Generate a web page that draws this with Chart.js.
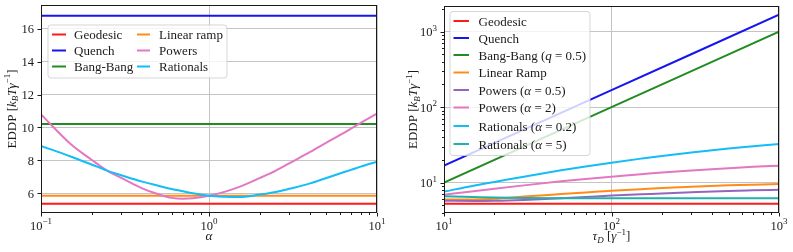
<!DOCTYPE html>
<html>
<head>
<meta charset="utf-8">
<script src="https://cdn.jsdelivr.net/npm/chart.js@4.4.0/dist/chart.umd.min.js"></script>
<style>
html, body { margin: 0; padding: 0; background: #fff; }
#wrap { position: relative; width: 793px; height: 252px; }
canvas { position: absolute; top: 0; }
#left { left: 0; }
#right { left: 400px; }
</style>
</head>
<body>
<div id="wrap">
  <canvas id="left" width="400" height="252"></canvas>
  <canvas id="right" width="393" height="252"></canvas>
</div>
<script>
// ---- left panel: EDDP vs alpha ----
const alphaVals = [0.1, 0.15, 0.2, 0.25, 0.3, 0.4, 0.5, 0.6, 0.7, 0.8, 1, 1.25, 1.5, 2, 2.5, 3, 4, 5, 6, 7, 8, 10];
const leftNames = ["Geodesic", "Quench", "Bang-Bang", "Linear ramp", "Powers", "Rationals"];
const leftGeodesic = 5.36;
const leftQuench = 16.8;
const leftBangBang = 10.22;
const leftLinear = 5.85;
const leftPowers = [10.8, 9.0, 8.04, 7.34, 6.94, 6.3, 5.94, 5.72, 5.67, 5.7, 5.85, 6.1, 6.37, 6.92, 7.38, 7.82, 8.51, 9.08, 9.53, 9.93, 10.28, 10.85];
const leftRationals = [8.88, 8.24, 7.75, 7.36, 7.1, 6.71, 6.46, 6.26, 6.12, 6.0, 5.85, 5.79, 5.77, 5.92, 6.08, 6.27, 6.6, 6.93, 7.2, 7.42, 7.62, 7.92];
const leftXTicks = [0.1, 1, 10];
const leftXExp = ["\u22121", "0", "1"];
const leftYTicks = [6, 8, 10, 12, 14, 16];

// ---- right panel: EDDP vs tau_D ----
const tauVals = [10, 15, 20, 30, 50, 70, 100, 150, 200, 300, 500, 700, 1000];
const rightNames = ["Geodesic", "Quench", "Bang-Bang (q = 0.5)", "Linear Ramp", "Powers (\u03b1 = 0.5)",
                    "Powers (\u03b1 = 2)", "Rationals (\u03b1 = 0.2)", "Rationals (\u03b1 = 5)"];
const rGeodesic = [5.25, 5.25, 5.25, 5.25, 5.25, 5.25, 5.25, 5.25, 5.25, 5.25, 5.25, 5.25, 5.25];
const rQuench = [16.8, null, null, null, null, null, 168, null, null, null, null, null, 1680];
const rBangBang = [10, null, null, null, null, null, 100, null, null, null, null, null, 1000];
const rLinear = [6.0, 6.0, 6.1, 6.55, 7.05, 7.4, 7.8, 8.2, 8.5, 8.85, 9.2, 9.4, 9.6];
const rPowers05 = [5.75, 5.72, 5.75, 5.9, 6.2, 6.45, 6.75, 7.0, 7.2, 7.45, 7.75, 7.9, 8.05];
const rPowers2 = [6.9, 7.7, 8.3, 9.2, 10.4, 11.2, 12.0, 12.9, 13.6, 14.5, 15.5, 16.2, 16.8];
const rRat02 = [7.6, 9.1, 10.2, 12.0, 14.6, 16.4, 18.4, 20.8, 22.6, 25.1, 28.3, 30.4, 32.5];
const rRat5 = [6.6, 6.45, 6.35, 6.25, 6.2, 6.2, 6.2, 6.2, 6.2, 6.2, 6.2, 6.2, 6.2];
const rightXTicks = [10, 100, 1000];
const rightXExp = ["1", "2", "3"];
const rightYTicks = [10, 100, 1000];
const rightYExp = ["1", "2", "3"];

const SERIF = '"Liberation Serif", "DejaVu Serif", serif';
const INK = "#1a1a1a";
const GRID = "#c4c4c4";
const TXT = 13;   // legend / axis title size
const TICK = 12.5; // tick label size
const SUP = 9;

function font(size, italic) {
    return (italic ? "italic " : "") + size + "px " + SERIF;
}

function drawRich(ctx, parts, x, y, align, base) {
    base = base || TXT;
    let w = 0;
    parts.forEach(p => { ctx.font = font(p.s || base, p.i); w += ctx.measureText(p.t).width; });
    let cx = align === "center" ? x - w / 2 : align === "right" ? x - w : x;
    ctx.textAlign = "left";
    ctx.textBaseline = "alphabetic";
    parts.forEach(p => {
        ctx.font = font(p.s || base, p.i);
        ctx.fillText(p.t, cx, y + (p.dy || 0));
        cx += ctx.measureText(p.t).width;
    });
}

function pow10(e) {
    return [{ t: "10" }, { t: e, s: SUP, dy: -5.5 }];
}

// italic for the single symbol after "(" in legend labels
function labelParts(str) {
    const m = str.match(/^(.*\()(.)(.*)$/);
    if (!m) return [{ t: str }];
    return [{ t: m[1] }, { t: m[2], i: true }, { t: m[3] }];
}

const yTitle = [{ t: "EDDP [" }, { t: "k", i: true }, { t: "B", i: true, s: SUP, dy: 2.5 },
                { t: "T\u03b3", i: true }, { t: "\u22121", s: SUP, dy: -5.5 }, { t: "]" }];

function isDecade(v) {
    const l = Math.log10(v);
    return Math.abs(l - Math.round(l)) < 1e-6;
}

function minorLog(lo, hi) {
    const out = [];
    for (let d = Math.pow(10, Math.floor(Math.log10(lo))); d < hi; d *= 10) {
        for (let k = 2; k <= 9; k++) {
            const v = k * d;
            if (v > lo && v < hi) out.push(v);
        }
    }
    return out;
}

const decor = {
    id: "decor",
    afterDraw(chart, args, o) {
        const ctx = chart.ctx, a = chart.chartArea;
        const xs = chart.scales.x, ys = chart.scales.y;
        ctx.save();

        // legend box (semi transparent, lines show through)
        const L = o.legend;
        ctx.beginPath();
        ctx.roundRect(L.x0 + 0.5, L.y0 + 0.5, L.x1 - L.x0, L.y1 - L.y0, 3);
        ctx.fillStyle = "rgba(255,255,255,0.8)";
        ctx.fill();
        ctx.strokeStyle = "rgba(204,204,204,0.8)";
        ctx.lineWidth = 1;
        ctx.stroke();
        chart.data.datasets.forEach((d, i) => {
            const col = L.cols[Math.floor(i / L.perCol)];
            const y = L.rowY[i % L.perCol];
            ctx.strokeStyle = d.borderColor;
            ctx.lineWidth = d.borderWidth;
            ctx.beginPath();
            ctx.moveTo(col[0], y);
            ctx.lineTo(col[1], y);
            ctx.stroke();
            ctx.fillStyle = INK;
            drawRich(ctx, labelParts(d.label), col[2], y + 4.5, "left");
        });

        // frame
        ctx.strokeStyle = INK;
        ctx.lineWidth = 1;
        ctx.strokeRect(a.left + 0.5, a.top + 0.5, a.right - a.left - 1, a.bottom - a.top - 1);

        // ticks
        ctx.beginPath();
        const xTick = (v, len) => {
            const px = Math.round(xs.getPixelForValue(v)) + 0.5;
            ctx.moveTo(px, a.bottom); ctx.lineTo(px, a.bottom + len);
        };
        const yTick = (v, len) => {
            const py = Math.round(ys.getPixelForValue(v)) + 0.5;
            ctx.moveTo(a.left, py); ctx.lineTo(a.left - len, py);
        };
        o.xTicks.forEach(v => xTick(v, 3.5));
        o.yTicks.forEach(v => yTick(v, 3.5));
        if (o.xLog) minorLog(xs.min, xs.max).forEach(v => xTick(v, 2));
        if (o.yLog) minorLog(ys.min, ys.max).forEach(v => yTick(v, 2));
        ctx.stroke();

        // tick labels
        ctx.fillStyle = INK;
        o.xTicks.forEach((v, i) => {
            drawRich(ctx, pow10(o.xExp[i]), xs.getPixelForValue(v), a.bottom + 16.5, "center", TICK);
        });
        o.yTicks.forEach((v, i) => {
            const parts = o.yExp ? pow10(o.yExp[i]) : [{ t: String(v) }];
            drawRich(ctx, parts, a.left - 7, ys.getPixelForValue(v) + 4.5, "right", TICK);
        });

        // axis titles
        drawRich(ctx, o.xTitle, (a.left + a.right) / 2, 240, "center");
        ctx.save();
        ctx.translate(o.yTitleX, (a.top + a.bottom) / 2);
        ctx.rotate(-Math.PI / 2);
        drawRich(ctx, yTitle, 0, 0, "center");
        ctx.restore();

        ctx.restore();
    }
};

function makeSet(label, data, color, i, n) {
    return {
        label, data, borderColor: color, backgroundColor: color, borderWidth: 2,
        pointRadius: 0, fill: false, spanGaps: true, cubicInterpolationMode: "monotone",
        order: n - i
    };
}

function gridOpt(test) {
    return {
        color: c => (c.tick && test(c.tick.value)) ? GRID : "rgba(0,0,0,0)",
        lineWidth: 1, drawTicks: false
    };
}

function baseScales(xOpt, yOpt) {
    return {
        x: Object.assign({
            border: { display: false },
            ticks: { display: false },
            afterFit: s => { s.height = 0; }
        }, xOpt),
        y: Object.assign({
            border: { display: false },
            ticks: { display: false },
            afterFit: s => { s.width = 0; }
        }, yOpt)
    };
}

const leftColors = ["#ff1a1a", "#1515f0", "#228b22", "#ff8c1a", "#e377c2", "#14bdf5"];
const leftSeries = [
    alphaVals.map(() => leftGeodesic),
    alphaVals.map(() => leftQuench),
    alphaVals.map(() => leftBangBang),
    alphaVals.map(() => leftLinear),
    leftPowers,
    leftRationals
];

new Chart(document.getElementById("left"), {
    type: "line",
    data: {
        labels: alphaVals,
        datasets: leftSeries.map((d, i) => makeSet(leftNames[i], d.map((y, k) => ({ x: alphaVals[k], y })), leftColors[i], i, leftSeries.length))
    },
    options: {
        responsive: false,
        animation: false,
        devicePixelRatio: 1,
        layout: { padding: { left: 41, right: 23, top: 5, bottom: 39 } },
        scales: baseScales(
            { type: "logarithmic", min: 0.1, max: 10, grid: gridOpt(isDecade) },
            { type: "linear", min: 4.8, max: 17.45, ticks: { display: false, stepSize: 2, includeBounds: false },
              grid: gridOpt(v => v >= 6 && v <= 16 && Math.abs(v / 2 - Math.round(v / 2)) < 1e-6) }
        ),
        plugins: {
            legend: { display: false },
            tooltip: { enabled: false },
            decor: {
                legend: { x0: 47.5, y0: 24.5, x1: 226.5, y1: 77.5, perCol: 3,
                          rowY: [34.5, 50.5, 66.5], cols: [[52, 66, 74], [137, 150, 159]] },
                xTicks: leftXTicks, xExp: leftXExp, yTicks: leftYTicks, yExp: null,
                xLog: true, yLog: false,
                xTitle: [{ t: "\u03b1", i: true }],
                yTitleX: 15.5
            }
        }
    },
    plugins: [decor]
});

const rightColors = ["#ff1a1a", "#1515f0", "#228b22", "#ff8c1a", "#9467bd", "#e377c2", "#14bdf5", "#20b2aa"];
const rightSeries = [rGeodesic, rQuench, rBangBang, rLinear, rPowers05, rPowers2, rRat02, rRat5];

new Chart(document.getElementById("right"), {
    type: "line",
    data: {
        labels: tauVals,
        datasets: rightSeries.map((d, i) => makeSet(rightNames[i], d.map((y, k) => ({ x: tauVals[k], y })), rightColors[i], i, rightSeries.length))
    },
    options: {
        responsive: false,
        animation: false,
        devicePixelRatio: 1,
        layout: { padding: { left: 44, right: 14, top: 6, bottom: 39 } },
        scales: baseScales(
            { type: "logarithmic", min: 10, max: 1000, grid: gridOpt(isDecade) },
            { type: "logarithmic", min: 3.96, max: 2190, grid: gridOpt(isDecade) }
        ),
        plugins: {
            legend: { display: false },
            tooltip: { enabled: false },
            decor: {
                legend: { x0: 49.5, y0: 11, x1: 189.5, y1: 155, perCol: 8,
                          rowY: [21, 38, 55, 72.5, 90, 107.5, 126, 144], cols: [[53.5, 69, 78.5]] },
                xTicks: rightXTicks, xExp: rightXExp, yTicks: rightYTicks, yExp: rightYExp,
                xLog: true, yLog: true,
                xTitle: [{ t: "\u03c4", i: true }, { t: "D", i: true, s: SUP, dy: 2.5 }, { t: " [" },
                         { t: "\u03b3", i: true }, { t: "\u22121", s: SUP, dy: -5.5 }, { t: "]" }],
                yTitleX: 17
            }
        }
    },
    plugins: [decor]
});
</script>
</body>
</html>
